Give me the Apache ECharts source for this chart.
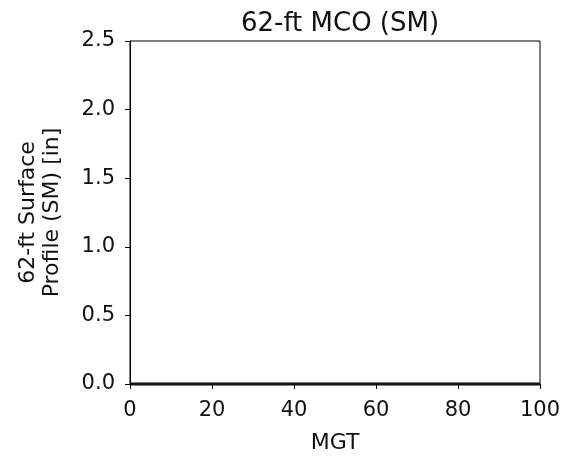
<!DOCTYPE html>
<html>
<head>
<meta charset="utf-8">
<script src="https://cdn.jsdelivr.net/npm/echarts@6/dist/echarts.min.js"></script>
<style>html,body{margin:0;padding:0;background:#fff}#c{width:564px;height:459px}</style>
</head>
<body>
<div id="c"></div>
<script>
const titleText = '62-ft MCO (SM)';
const xName = 'MGT';
const yName = '62-ft Surface\nProfile (SM) [in]';
const mgt = [0, 100];
const profile = [0, 0];
const xTicks = [0, 20, 40, 60, 80, 100];
const yTicks = [0.0, 0.5, 1.0, 1.5, 2.0, 2.5];

const font = 'DejaVu Sans';
const chart = echarts.init(document.getElementById('c'));
chart.setOption({
  animation: false,
  backgroundColor: '#fff',
  title: {
    text: titleText, left: 335, top: 6, textAlign: 'center',
    textStyle: {fontFamily: font, fontSize: 26, fontWeight: 'normal', color: '#111'}
  },
  grid: {left: 130, right: 24, top: 41, bottom: 74, show: true, borderColor: '#000', borderWidth: 1},
  xAxis: {
    type: 'value', min: xTicks[0], max: xTicks[xTicks.length-1], interval: 20,
    name: xName, nameLocation: 'middle', nameGap: 48,
    nameTextStyle: {fontFamily: font, fontSize: 22, color: '#111'},
    axisLine: {show: true, lineStyle: {color: '#000', width: 1}},
    axisTick: {show: true, length: 5, lineStyle: {color: '#000'}},
    axisLabel: {fontFamily: font, fontSize: 21, color: '#111', margin: 16},
    splitLine: {show: false}
  },
  yAxis: {
    type: 'value', min: yTicks[0], max: yTicks[yTicks.length-1], interval: 0.5,
    name: yName, nameLocation: 'middle', nameGap: 66, nameRotate: 90,
    nameTextStyle: {fontFamily: font, fontSize: 22, color: '#111', lineHeight: 24, align: 'center'},
    axisLine: {show: true, lineStyle: {color: '#000', width: 1}},
    axisTick: {show: true, length: 5, lineStyle: {color: '#000'}},
    axisLabel: {fontFamily: font, fontSize: 21, color: '#111', margin: 15, formatter: v => v.toFixed(1)},
    splitLine: {show: false}
  },
  series: [{
    type: 'line', data: mgt.map((x, i) => [x, profile[i]]),
    showSymbol: false, lineStyle: {color: '#111', width: 3}, clip: false
  }]
});
</script>
</body>
</html>
